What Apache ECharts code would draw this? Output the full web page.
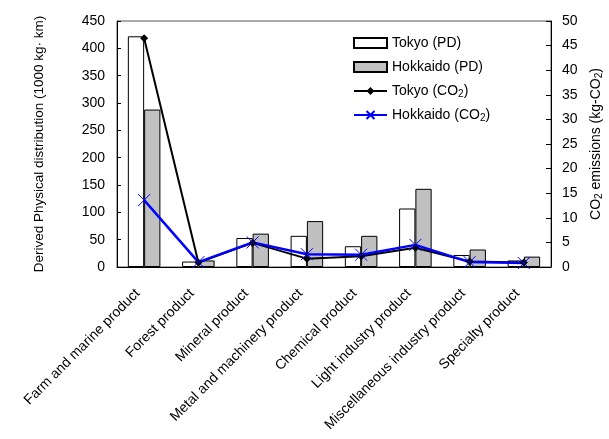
<!DOCTYPE html>
<html><head><meta charset="utf-8">
<script src="https://cdn.jsdelivr.net/npm/echarts@6/dist/echarts.min.js"></script>
<style>html,body{margin:0;padding:0;background:#fff}#c{width:609px;height:439px}</style>
</head><body><div id="c"></div>
<script>
var categories = ['Farm and marine product','Forest product','Mineral product','Metal and machinery product','Chemical product','Light industry product','Miscellaneous industry product','Specialty product'];
var tokyoPD = [422, 10, 53, 57, 38, 107, 22, 12];
var hokkaidoPD = [288, 12, 61, 84, 57, 143, 32, 19];
var tokyoCO2 = [46.5, 0.9, 4.9, 1.7, 2.2, 3.9, 1.1, 0.9];
var hokkaidoCO2 = [13.6, 1.0, 5.0, 2.6, 2.5, 4.5, 1.0, 0.8];
var leftTicks = {min: 0, max: 450, interval: 50};
var rightTicks = {min: 0, max: 50, interval: 5};
var legendNames = ['Tokyo (PD)', 'Hokkaido (PD)', 'Tokyo (CO2)', 'Hokkaido (CO2)'];

var font = 'Liberation Sans, Arial, sans-serif';
var rich = {
  a: {fontFamily: font, fontSize: 14, color: '#000'},
  s: {fontFamily: font, fontSize: 10, color: '#000', verticalAlign: 'bottom', padding: [6, 0, 0, 0]}
};
function legendFmt(n) {
  if (n.indexOf('CO2') >= 0) return '{a|' + n.replace('(CO2)', '(CO') + '}{s|2}{a|)}';
  return '{a|' + n + '}';
}
var legendCenters = [42, 66, 90, 114];
var legends = legendNames.map(function (n, i) {
  return {
    orient: 'vertical', left: 353, top: legendCenters[i] - 6, itemWidth: 33, itemHeight: 10, padding: 0,
    data: [i < 2 ? {name: n, icon: 'rect'} : {name: n}],
    textStyle: {fontFamily: font, fontSize: 14, color: '#000', rich: rich},
    formatter: legendFmt
  };
});
var chart = echarts.init(document.getElementById('c'));
chart.setOption({
  animation: false,
  textStyle: {fontFamily: font},
  grid: {left: 117, right: 58, top: 21, bottom: 172, outerBoundsMode: 'none', containLabel: false,
         show: true, borderColor: '#555', borderWidth: 1},
  legend: legends,
  xAxis: {
    type: 'category', data: categories,
    axisLine: {lineStyle: {color: '#000', width: 1}},
    axisTick: {inside: true, length: 5, lineStyle: {color: '#000'}},
    axisLabel: {rotate: 45, color: '#000', fontSize: 14, fontFamily: font, interval: 0, margin: 18, padding: [0, 9, 0, 0]}
  },
  yAxis: [{
    type: 'value', min: leftTicks.min, max: leftTicks.max, interval: leftTicks.interval,
    name: 'Derived Physical distribution (1000 kg\u00b7 km)', nameLocation: 'middle', nameGap: 71, nameRotate: 90,
    nameTextStyle: {fontSize: 13.5, color: '#000', fontFamily: font},
    axisLine: {show: true, lineStyle: {color: '#000'}},
    axisTick: {show: true, inside: true, length: 4, lineStyle: {color: '#000'}},
    axisLabel: {color: '#000', fontSize: 14, fontFamily: font, margin: 12},
    splitLine: {show: false}
  }, {
    type: 'value', min: rightTicks.min, max: rightTicks.max, interval: rightTicks.interval, position: 'right',
    name: '{a|CO}{s|2}{a| emissions (kg-CO}{s|2}{a|)}', nameLocation: 'middle', nameGap: 37, nameRotate: 90,
    nameTextStyle: {rich: rich},
    axisLine: {show: true, lineStyle: {color: '#000'}},
    axisTick: {show: true, inside: true, length: 5, lineStyle: {color: '#000'}},
    axisLabel: {color: '#000', fontSize: 14, fontFamily: font, margin: 11},
    splitLine: {show: false}
  }],
  series: [{
    name: 'Tokyo (PD)', type: 'bar', data: tokyoPD, barGap: '0%', barCategoryGap: '40%',
    itemStyle: {color: '#fff', borderColor: '#000', borderWidth: 1}
  }, {
    name: 'Hokkaido (PD)', type: 'bar', data: hokkaidoPD,
    itemStyle: {color: '#c0c0c0', borderColor: '#000', borderWidth: 1}
  }, {
    name: 'Tokyo (CO2)', type: 'line', yAxisIndex: 1, data: tokyoCO2,
    symbol: 'diamond', symbolSize: 8,
    lineStyle: {color: '#000', width: 2}, itemStyle: {color: '#000'}
  }, {
    name: 'Hokkaido (CO2)', type: 'line', yAxisIndex: 1, data: hokkaidoCO2,
    symbol: 'path://M0,0L10,10M10,0L0,10', symbolSize: 12,
    lineStyle: {color: '#0000ff', width: 2.5}, itemStyle: {color: 'rgba(0,0,0,0)', borderColor: '#0000ff', borderWidth: 1}
  }]
});
</script></body></html>
